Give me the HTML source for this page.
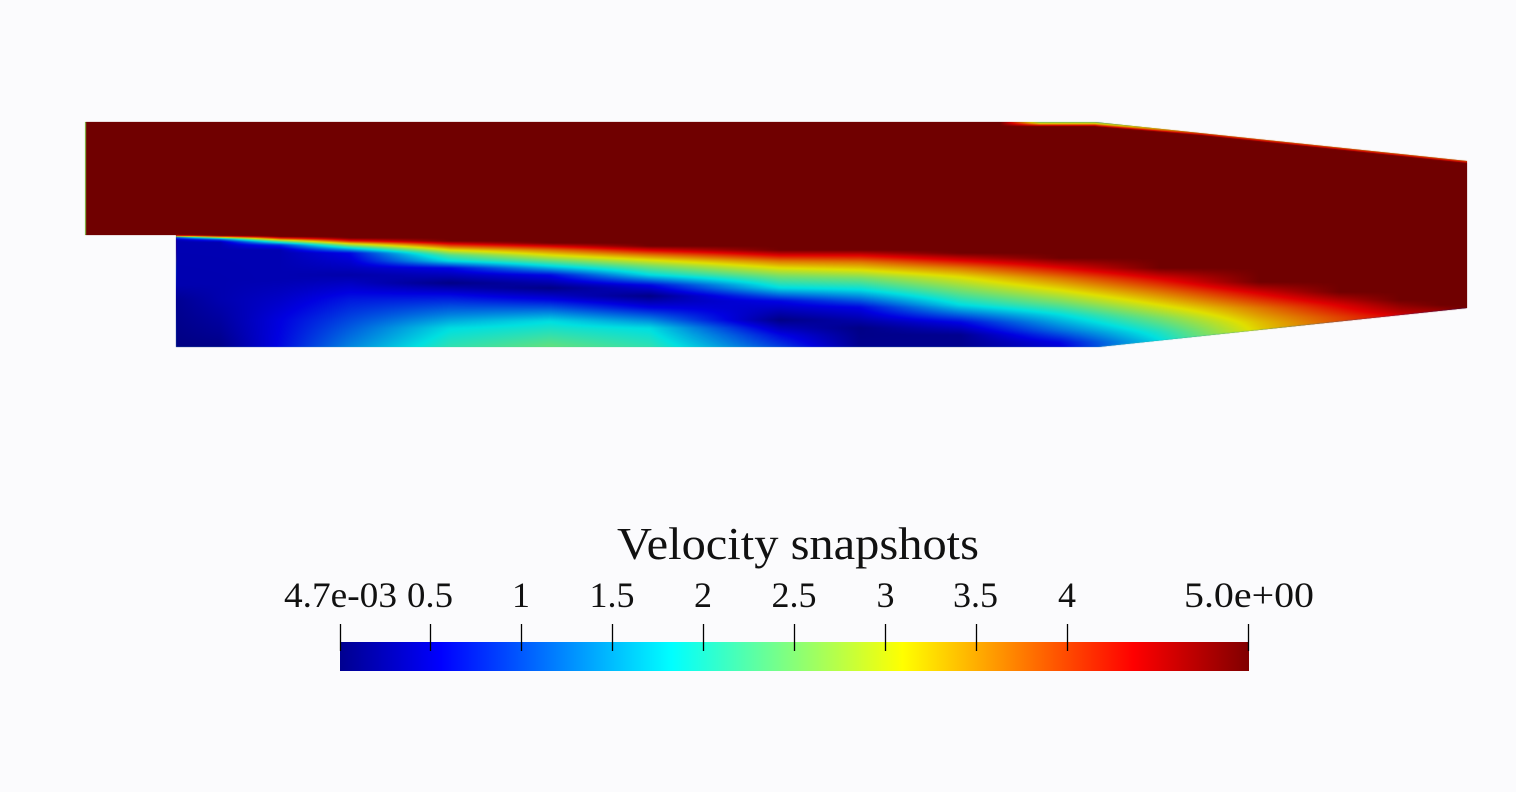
<!DOCTYPE html>
<html>
<head>
<meta charset="utf-8">
<style>
html,body{margin:0;padding:0;background:#fbfbfd;width:1516px;height:792px;overflow:hidden;}
#wrap{position:relative;width:1516px;height:792px;}
svg,canvas{position:absolute;left:0;top:0;}
text{font-family:"Liberation Serif","DejaVu Serif",serif;fill:#111;}
</style>
</head>
<body>
<div id="wrap">
<!-- fallback field (covered by canvas when scripts run) -->
<svg width="1516" height="792" viewBox="0 0 1516 792">
  <defs>
    <linearGradient id="lowg" x1="0" y1="0" x2="0" y2="1">
      <stop offset="0" stop-color="#700000"/>
      <stop offset="0.12" stop-color="#e00000"/>
      <stop offset="0.22" stop-color="#e0e000"/>
      <stop offset="0.32" stop-color="#00e0e0"/>
      <stop offset="0.5" stop-color="#0000c0"/>
      <stop offset="0.62" stop-color="#000090"/>
      <stop offset="0.85" stop-color="#00a0e0"/>
      <stop offset="1" stop-color="#40d0b0"/>
    </linearGradient>
  </defs>
  <polygon points="85,122 1095,122 1467,161 1467,308 1098,347 176,347 176,235 85,235" fill="#700000"/>
  <polygon points="176,235 700,250 1100,256 1300,285 1467,308 1098,347 176,347" fill="url(#lowg)"/>
</svg>
<canvas id="c" width="1516" height="792"></canvas>
<svg width="1516" height="792" viewBox="0 0 1516 792">
  <defs>
    <linearGradient id="jet" x1="0" y1="0" x2="1" y2="0">
      <stop offset="0" stop-color="#000090"/>
      <stop offset="0.1111" stop-color="#0000ff"/>
      <stop offset="0.3651" stop-color="#00ffff"/>
      <stop offset="0.4921" stop-color="#80ff80"/>
      <stop offset="0.6190" stop-color="#ffff00"/>
      <stop offset="0.8730" stop-color="#ff0000"/>
      <stop offset="1" stop-color="#800000"/>
    </linearGradient>
  </defs>
  <text x="798" y="559" font-size="46" text-anchor="middle" textLength="362" lengthAdjust="spacingAndGlyphs">Velocity snapshots</text>
  <rect x="340" y="642" width="909" height="29" fill="url(#jet)"/>
  <g stroke="#000" stroke-width="1.3">
    <line x1="340.5" y1="624" x2="340.5" y2="651"/>
    <line x1="430.5" y1="624" x2="430.5" y2="651"/>
    <line x1="521.5" y1="624" x2="521.5" y2="651"/>
    <line x1="612.5" y1="624" x2="612.5" y2="651"/>
    <line x1="703.5" y1="624" x2="703.5" y2="651"/>
    <line x1="794.5" y1="624" x2="794.5" y2="651"/>
    <line x1="885.5" y1="624" x2="885.5" y2="651"/>
    <line x1="976.5" y1="624" x2="976.5" y2="651"/>
    <line x1="1067.5" y1="624" x2="1067.5" y2="651"/>
    <line x1="1248.5" y1="624" x2="1248.5" y2="651"/>
  </g>
  <g font-size="36" text-anchor="middle">
    <text x="340.5" y="607" textLength="113" lengthAdjust="spacingAndGlyphs">4.7e-03</text>
    <text x="430" y="607" textLength="46" lengthAdjust="spacingAndGlyphs">0.5</text>
    <text x="521" y="607">1</text>
    <text x="612" y="607" textLength="45" lengthAdjust="spacingAndGlyphs">1.5</text>
    <text x="703" y="607">2</text>
    <text x="794" y="607" textLength="45" lengthAdjust="spacingAndGlyphs">2.5</text>
    <text x="885.5" y="607">3</text>
    <text x="975.5" y="607" textLength="45" lengthAdjust="spacingAndGlyphs">3.5</text>
    <text x="1067" y="607">4</text>
    <text x="1249" y="607" textLength="130" lengthAdjust="spacingAndGlyphs">5.0e+00</text>
  </g>
</svg>
</div>
<script>
(function(){
var cv=document.getElementById('c');
if(!cv||!cv.getContext)return;
var ctx=cv.getContext('2d');
var X0=84,Y0=120,W=1386,H=230;
var off=document.createElement('canvas');off.width=W;off.height=H;
var octx=off.getContext('2d');var img=octx.createImageData(W,H);var d=img.data;
var S=[
 [176,[[235,5],[236,3.5],[237.5,1],[240,0.3],[285,0.28],[300,0.12],[347,0.03]]],
 [220,[[235.5,5],[237,3.5],[239,1.2],[242,0.3],[300,0.28],[330,0.15],[347,0.06]]],
 [280,[[236.5,5],[238.5,4],[241,2.5],[245,0.8],[250,0.3],[280,0.3],[320,0.55],[347,0.6]]],
 [350,[[238,5],[241,4.2],[244,3],[248,1.8],[253,0.6],[275,0.25],[300,0.7],[330,1.1],[347,1.3]]],
 [450,[[241,5],[244,4.3],[250,3.1],[255,2.3],[261,1.8],[268,0.6],[283,0.05],[295,0.6],[315,1.3],[328,1.8],[347,2.1]]],
 [550,[[243,5],[246,4.4],[250,3.7],[255,3.1],[260,2.5],[266,1.8],[275,0.6],[288,0.05],[300,0.6],[321,1.8],[347,2.4]]],
 [650,[[246,5],[250,4.4],[255,3.7],[260,3.1],[266,2.5],[275,1.8],[285,0.6],[296,0.05],[308,0.6],[328,1.8],[347,2.1]]],
 [780,[[250,5],[255,4.4],[261,3.7],[268,3.1],[276,2.5],[288,1.8],[301,0.6],[320,0.05],[335,0.6],[347,0.9]]],
 [860,[[250,5],[255,4.4],[262,3.7],[270,3.1],[278,2.5],[290,1.8],[307,0.6],[328,0.05],[347,0.1]]],
 [960,[[253,5],[260,4.4],[268,3.7],[277,3.1],[290,2.5],[305,1.8],[322,0.6],[335,0.1],[347,0.1]]],
 [1060,[[258,5],[267,4.4],[278,3.7],[290,3.1],[302,2.5],[315,1.8],[330,1.2],[342,0.6],[347,0.5]]],
 [1160,[[268,5],[278,4.4],[292,3.7],[305,3.1],[318,2.5],[332,2.0],[341,1.8]]],
 [1260,[[282,5],[293,4.4],[308,3.7],[322,3.3],[330,3.2]]],
 [1340,[[292,5],[305,4.4],[317,4.0],[323,3.9]]],
 [1400,[[300,5],[312,4.6],[316,4.4]]],
 [1440,[[305,5],[312,4.7]]],
 [1470,[[308,5],[310,5]]]
];
function prof(k,y){
 if(y<=k[0][0])return k[0][1];
 for(var i=1;i<k.length;i++){if(y<=k[i][0]){var a=k[i-1],b=k[i];return a[1]+(b[1]-a[1])*(y-a[0])/(b[0]-a[0]);}}
 return k[k.length-1][1];
}
var P=[[0,0,0,0.5625],[0.1111,0,0,1],[0.3651,0,1,1],[0.4921,0.5,1,0.5],[0.6190,1,1,0],[0.8730,1,0,0],[1,0.5,0,0]];
function cmap(v){
 var t=(v-0.0047)/4.9953;if(t<0)t=0;if(t>1)t=1;
 for(var i=1;i<P.length;i++){if(t<=P[i][0]){var a=P[i-1],b=P[i],f=(t-a[0])/(b[0]-a[0]);
   return [a[1]+(b[1]-a[1])*f,a[2]+(b[2]-a[2])*f,a[3]+(b[3]-a[3])*f];}}
 return [0.5,0,0];
}
var L=0.88;
for(var px=0;px<W;px++){
 var x=X0+px+0.5;
 var xc=Math.max(176,Math.min(1469.9,x));
 var j=0;while(j<S.length-2&&xc>S[j+1][0])j++;
 var s1=S[j],s2=S[j+1];var f=(xc-s1[0])/(s2[0]-s1[0]);if(f<0)f=0;if(f>1)f=1;
 var ytop=x<=1095?122:122+(x-1095)*(39/372);
 for(var py=0;py<H;py++){
  var y=Y0+py+0.5;
  var v;
  if(x<176)v=5;else v=prof(s1[1],y)*(1-f)+prof(s2[1],y)*f;
  if(x>=1000){
   var dd=y-ytop;
   if(dd<5&&dd>-2){
    var s=x<1040?(x-1000)/40:1;
    var base=x<1100?2.3:2.3+Math.min(1,(x-1100)/100)*1.3;
    var vb=base+Math.max(0,dd)*0.6;if(vb>5)vb=5;
    var vv=5+(vb-5)*s;if(vv<v)v=vv;
   }
  }
  if(x<86.0)v=2.6;
  var c=cmap(v);var o=(py*W+px)*4;
  d[o]=Math.round(c[0]*255*L);d[o+1]=Math.round(c[1]*255*L);d[o+2]=Math.round(c[2]*255*L);d[o+3]=255;
 }
}
octx.putImageData(img,0,0);
ctx.save();
ctx.beginPath();
ctx.moveTo(85,122);ctx.lineTo(1095,122);ctx.lineTo(1467,161);ctx.lineTo(1467,308);
ctx.lineTo(1098,347);ctx.lineTo(176,347);ctx.lineTo(176,235);ctx.lineTo(85,235);ctx.closePath();
ctx.clip();
ctx.drawImage(off,X0,Y0);
ctx.restore();
})();
</script>
</body>
</html>
